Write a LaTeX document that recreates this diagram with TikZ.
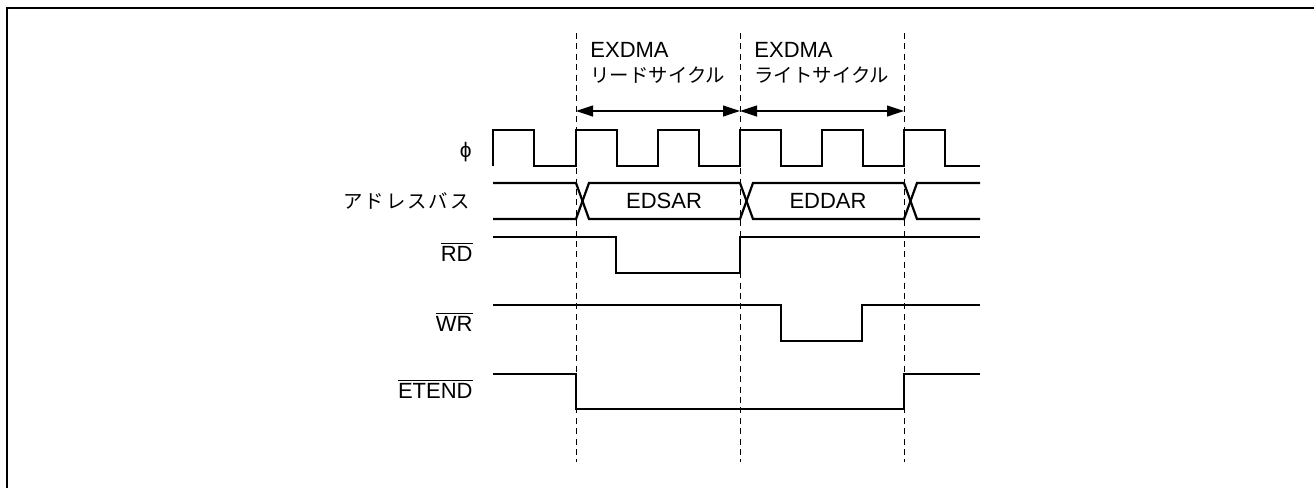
\documentclass[tikz,border=0pt]{standalone}
\usepackage{fontspec}
\setmainfont{Liberation Sans}
\newfontfamily\jp{Noto Sans CJK JP}
\usetikzlibrary{arrows.meta}
\begin{document}
\begin{tikzpicture}[x=0.5pt,y=-0.5pt,
  frame/.style={line width=1.2pt},
  sig/.style={line width=1.1pt, line join=miter},
  guide/.style={line width=0.5pt, dash pattern=on 3pt off 2.2pt},
  dim/.style={line width=0.6pt, {Triangle[length=8.5pt,width=5.5pt]}-{Triangle[length=8.5pt,width=5.5pt]}},
  lab/.style={inner sep=0pt, font=\fontsize{11}{13}\selectfont},
  jlab/.style={inner sep=0pt, font=\fontsize{9.7}{11}\selectfont\jp}]
\useasboundingbox (0,0) rectangle (1314,488);
% frame (only left and top edges visible)
\draw[frame] (7,488) -- (7,8) -- (1314,8);

% guide lines
\foreach \n/\x in {g1/576,g2/740,g3/904}{
  \coordinate (\n t) at (\x,33);
  \coordinate (\n b) at (\x,462);
  \coordinate (\n a) at (\x,111);
}
\draw[guide] (g1t) -- (g1b);
\draw[guide] (g2t) -- (g2b);
\draw[guide] (g3t) -- (g3b);

% cycle arrows
\draw[dim] (g1a) -- (g2a);
\draw[dim] (g2a) -- (g3a);

% cycle labels
\node[lab, anchor=base west] (ex1) at (590,57) {EXDMA};
\node[jlab, anchor=base west] (rc) at (590,82) {リードサイクル};
\node[lab, anchor=base west] (ex2) at (754,57) {EXDMA};
\node[jlab, anchor=base west] (wc) at (754,82) {ライトサイクル};

% signal names
\node[lab, anchor=east] (phi) at (472,152) {\fontsize{10.5}{12}\selectfont ϕ};
\node[jlab, anchor=east] (addr) at (470,201) {\makebox[63pt][s]{ア\hfil ド\hfil レ\hfil ス\hfil バ\hfil ス}};
\node[lab, anchor=east] (rd) at (473,252) {$\overline{\mbox{RD}}$};
\node[lab, anchor=east] (wr) at (473,322) {$\overline{\mbox{WR}}$};
\node[lab, anchor=east] (et) at (473,389) {$\overline{\mbox{ETEND}}$};

% clock
\draw[sig] (493,166) -- (493,130) -- (534,130) -- (534,166) -- (576,166)
  -- (576,130) -- (617,130) -- (617,166) -- (658,166)
  -- (658,130) -- (699,130) -- (699,166) -- (740,166)
  -- (740,130) -- (781,130) -- (781,166) -- (822,166)
  -- (822,130) -- (863,130) -- (863,166) -- (904,166)
  -- (904,130) -- (945,130) -- (945,166) -- (980,166);

% address bus
\draw[sig] (493,183) -- (576,183) -- (589,219) -- (740,219) -- (753,183) -- (904,183) -- (917,219) -- (980,219);
\draw[sig] (493,219) -- (576,219) -- (589,183) -- (740,183) -- (753,219) -- (904,219) -- (917,183) -- (980,183);
\node[lab] (edsar) at (664,201) {EDSAR};
\node[lab] (eddar) at (828,201) {EDDAR};

% RD
\draw[sig] (493,237) -- (616,237) -- (616,273) -- (740,273) -- (740,237) -- (980,237);
% WR
\draw[sig] (493,305) -- (781,305) -- (781,341) -- (862,341) -- (862,305) -- (980,305);
% ETEND
\draw[sig] (493,374) -- (576,374) -- (576,409) -- (904,409) -- (904,374) -- (980,374);
\end{tikzpicture}
\end{document}
